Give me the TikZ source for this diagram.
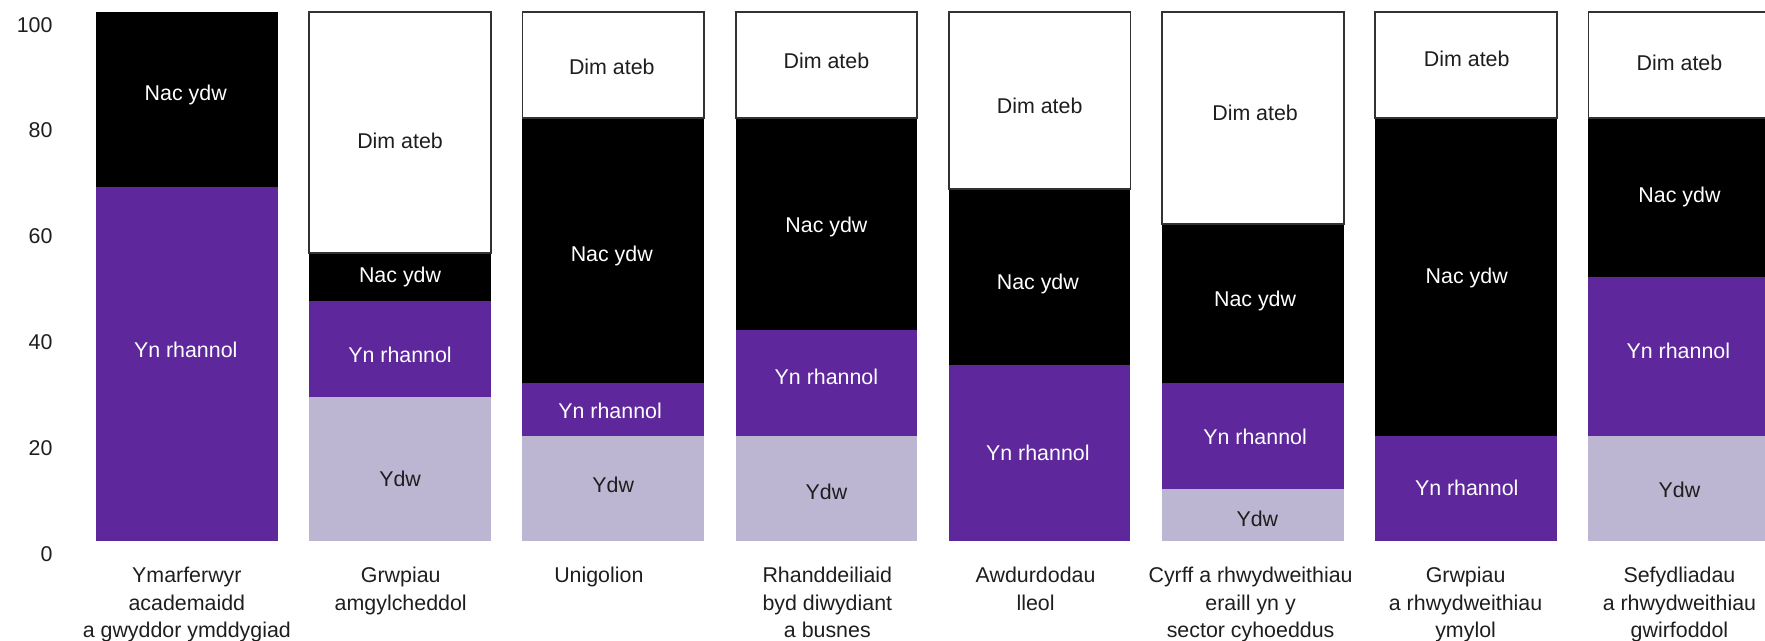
\documentclass[tikz,border=0pt]{standalone}
\usepackage{fontspec}
\setmainfont{Liberation Sans}
\definecolor{purp}{RGB}{94,40,156}
\definecolor{lav}{RGB}{188,182,210}
\definecolor{edgegray}{RGB}{50,50,50}
\definecolor{txt}{RGB}{30,30,30}
\newcommand\barseg[4]{\path[#4] (#1,{481-4.7*#2}) rectangle ({#1+161.4},{481-4.7*#3});}
\begin{document}
\begin{tikzpicture}[x=0.5pt,y=-0.5pt,
  seglab/.style={font=\fontsize{9.5}{11}\selectfont, inner sep=0pt},
  wlab/.style={seglab,text=white},
  dlab/.style={seglab,text=txt},
  catlab/.style={font=\fontsize{9.5}{12.4}\selectfont, align=center, anchor=north, inner sep=0pt, text=txt},
  ytick/.style={font=\fontsize{9.5}{11}\selectfont, anchor=east, inner sep=0pt, text=txt},
  ydw/.style={fill=lav}, ynr/.style={fill=purp}, nac/.style={fill=black},
  dim/.style={fill=white,draw=edgegray,line width=0.8pt}
]
\useasboundingbox (0,0) rectangle (1568,569);
\clip (0,0) rectangle (1568,569);

% y axis labels
\foreach \v/\n in {0/t0,20/t20,40/t40,60/t60,80/t80,100/t100}
  \node[ytick] (\n) at (47,{481-4.7*\v+11}) {\v};

% Bar 1
\barseg{85.3}{0}{67}{ynr}
\barseg{85.3}{67}{100}{nac}
\node[wlab] (b1n) at (165,84) {Nac ydw};
\node[wlab] (b1y) at (165,311) {Yn rhannol};
\node[catlab] (c1) at (166,503) {Ymarferwyr\\academaidd\\a gwyddor ymddygiad};

% Bar 2
\barseg{274.7}{0}{27.27}{ydw}
\barseg{274.7}{27.27}{45.45}{ynr}
\barseg{274.7}{45.45}{54.55}{nac}
\barseg{274.7}{54.55}{100}{dim}
\node[dlab] (b2d) at (355.4,125) {Dim ateb};
\node[wlab] (b2n) at (355.4,246) {Nac ydw};
\node[wlab] (b2r) at (355.4,315) {Yn rhannol};
\node[dlab] (b2y) at (355.4,425) {Ydw};
\node[catlab] (c2) at (356,503) {Grwpiau\\amgylcheddol};

% Bar 3
\barseg{464.1}{0}{20}{ydw}
\barseg{464.1}{20}{30}{ynr}
\barseg{464.1}{30}{80}{nac}
\barseg{464.1}{80}{100}{dim}
\node[dlab] (b3d) at (543.5,59) {Dim ateb};
\node[wlab] (b3n) at (543.5,227) {Nac ydw};
\node[wlab] (b3r) at (542,365) {Yn rhannol};
\node[dlab] (b3y) at (544.8,431) {Ydw};
\node[catlab] (c3) at (532,503) {Unigolion};

% Bar 4
\barseg{653.5}{0}{20}{ydw}
\barseg{653.5}{20}{40}{ynr}
\barseg{653.5}{40}{80}{nac}
\barseg{653.5}{80}{100}{dim}
\node[dlab] (b4d) at (734.2,54) {Dim ateb};
\node[wlab] (b4n) at (734.2,202) {Nac ydw};
\node[wlab] (b4r) at (734.2,335) {Yn rhannol};
\node[dlab] (b4y) at (734.2,437) {Ydw};
\node[catlab] (c4) at (735,503) {Rhanddeiliaid\\byd diwydiant\\a busnes};

% Bar 5
\barseg{842.9}{0}{33.33}{ynr}
\barseg{842.9}{33.33}{66.67}{nac}
\barseg{842.9}{66.67}{100}{dim}
\node[dlab] (b5d) at (923.6,94) {Dim ateb};
\node[wlab] (b5n) at (922,252) {Nac ydw};
\node[wlab] (b5r) at (922,402) {Yn rhannol};
\node[catlab] (c5) at (920,503) {Awdurdodau\\lleol};

% Bar 6
\barseg{1032.3}{0}{10}{ydw}
\barseg{1032.3}{10}{30}{ynr}
\barseg{1032.3}{30}{60}{nac}
\barseg{1032.3}{60}{100}{dim}
\node[dlab] (b6d) at (1115,100) {Dim ateb};
\node[wlab] (b6n) at (1115,267) {Nac ydw};
\node[wlab] (b6r) at (1115,388) {Yn rhannol};
\node[dlab] (b6y) at (1117,461) {Ydw};
\node[catlab] (c6) at (1111,503) {Cyrff a rhwydweithiau\\eraill yn y\\sector cyhoeddus};

% Bar 7
\barseg{1221.7}{0}{20}{ynr}
\barseg{1221.7}{20}{80}{nac}
\barseg{1221.7}{80}{100}{dim}
\node[dlab] (b7d) at (1303,52) {Dim ateb};
\node[wlab] (b7n) at (1303,247) {Nac ydw};
\node[wlab] (b7r) at (1303,433) {Yn rhannol};
\node[catlab] (c7) at (1302,503) {Grwpiau\\a rhwydweithiau\\ymylol};

% Bar 8
\barseg{1411.1}{0}{20}{ydw}
\barseg{1411.1}{20}{50}{ynr}
\barseg{1411.1}{50}{80}{nac}
\barseg{1411.1}{80}{100}{dim}
\node[dlab] (b8d) at (1492,56) {Dim ateb};
\node[wlab] (b8n) at (1492,175) {Nac ydw};
\node[wlab] (b8r) at (1491,312) {Yn rhannol};
\node[dlab] (b8y) at (1492,435) {Ydw};
\node[catlab] (c8) at (1492,503) {Sefydliadau\\a rhwydweithiau\\gwirfoddol};
\end{tikzpicture}
\end{document}
